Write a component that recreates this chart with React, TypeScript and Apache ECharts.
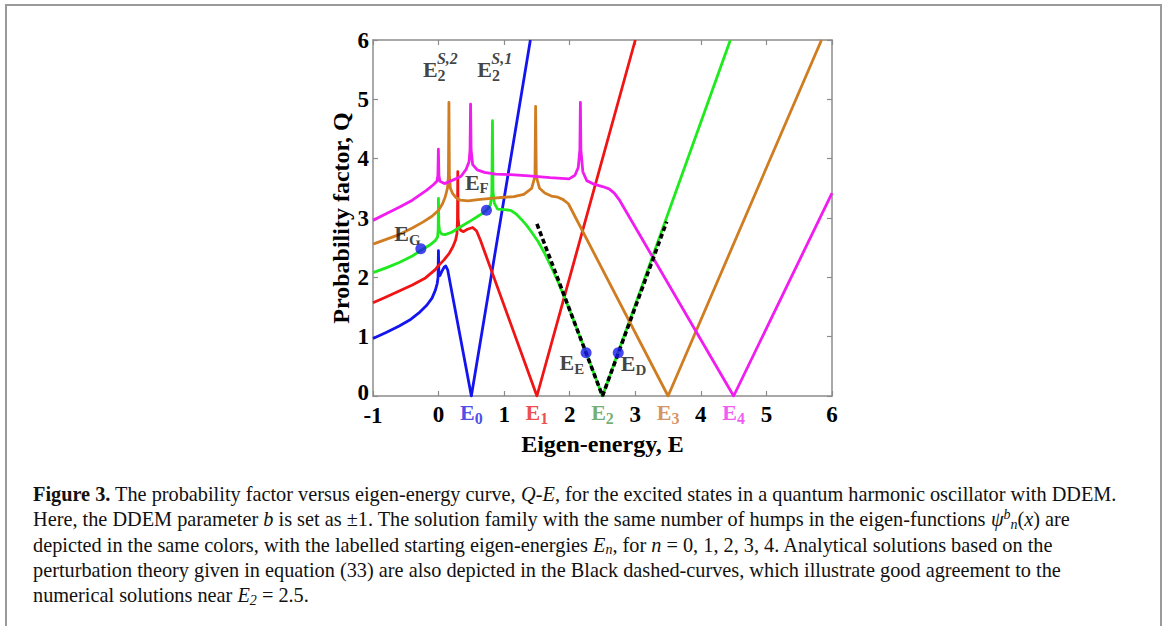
import React, { useEffect, useRef } from "react";
import * as echarts from "echarts";

// ---------- data ----------
const blueE0 = [[-1,0.97],[-0.8,1.07],[-0.6,1.18],[-0.44,1.28],[-0.3,1.4],[-0.18,1.53],[-0.1,1.65],[-0.05,1.78],[-0.02,1.9],[-0.008,2.0],[-0.002,2.45],[0.004,2.08],[0.02,2.03],[0.05,2.1],[0.09,2.18],[0.11,2.19],[0.14,2.12],[0.5,0],[1.4,6]];
const redE1 = [[-1,1.57],[-0.8,1.67],[-0.6,1.77],[-0.4,1.87],[-0.2,1.99],[-0.05,2.13],[0,2.2],[0.08,2.29],[0.16,2.4],[0.22,2.52],[0.26,2.63],[0.28,2.74],[0.288,2.95],[0.293,3.78],[0.298,3.0],[0.31,2.85],[0.34,2.79],[0.38,2.77],[0.44,2.81],[0.52,2.84],[0.58,2.78],[0.64,2.62],[1.5,0],[3.0,6]];
const greenE2 = [[-1,2.08],[-0.8,2.16],[-0.6,2.25],[-0.4,2.36],[-0.26,2.46],[-0.14,2.54],[-0.05,2.62],[-0.015,2.68],[-0.006,2.8],[-0.002,3.33],[0.003,2.9],[0.015,2.78],[0.05,2.73],[0.1,2.72],[0.2,2.76],[0.35,2.86],[0.5,2.96],[0.63,3.05],[0.73,3.13],[0.79,3.22],[0.812,3.4],[0.822,4.64],[0.83,3.45],[0.85,3.25],[0.9,3.15],[1.0,3.14],[1.1,3.13],[1.18,3.07],[1.26,2.98],[1.34,2.88],[1.42,2.76],[1.52,2.6],[1.62,2.4],[1.72,2.17],[1.82,1.93],[1.92,1.66],[2.03,1.36],[2.13,1.07],[2.25,0.73],[2.5,0],[4.45,6]];
const orangeE3 = [[-1,2.56],[-0.8,2.64],[-0.6,2.72],[-0.4,2.83],[-0.24,2.93],[-0.1,3.03],[0,3.13],[0.06,3.24],[0.1,3.35],[0.135,3.5],[0.15,3.7],[0.158,4.95],[0.165,3.7],[0.18,3.5],[0.21,3.42],[0.26,3.35],[0.33,3.3],[0.45,3.29],[0.6,3.31],[0.8,3.33],[1.0,3.35],[1.15,3.36],[1.3,3.4],[1.42,3.5],[1.47,3.7],[1.48,4.88],[1.49,3.7],[1.54,3.5],[1.62,3.42],[1.72,3.37],[1.82,3.35],[1.9,3.31],[1.98,3.24],[3.5,0],[5.84,6]];
const magentaE4 = [[-1,2.96],[-0.8,3.07],[-0.6,3.18],[-0.4,3.3],[-0.18,3.47],[-0.08,3.56],[-0.025,3.62],[-0.01,3.72],[-0.003,4.16],[0.005,3.72],[0.02,3.62],[0.09,3.58],[0.2,3.63],[0.34,3.7],[0.42,3.82],[0.465,3.95],[0.48,4.15],[0.488,4.92],[0.496,4.15],[0.52,3.9],[0.59,3.81],[0.7,3.77],[0.87,3.74],[1.1,3.73],[1.38,3.71],[1.7,3.68],[1.99,3.66],[2.08,3.72],[2.13,3.85],[2.155,4.15],[2.163,4.95],[2.17,4.15],[2.2,3.78],[2.26,3.63],[2.37,3.57],[2.5,3.53],[2.6,3.49],[2.68,3.42],[2.76,3.3],[4.5,0],[6,3.42]];
const perturbationCurve = [[1.5,2.9],[2.5,0],[3.48,2.94]];

const markerNames = ["G", "F", "E", "D"];
const markerPoints = [[-0.27,2.48],[0.73,3.13],[2.25,0.73],[2.74,0.73]];

const eigenNames = ["0", "1", "2", "3", "4"];
const eigenEnergies = [0.5, 1.5, 2.5, 3.5, 4.5];

const specialNames = ["S,2", "S,1"];
const specialPoints = [[0.02,5.5],[0.85,5.5]];

const xAxisName = "Eigen-energy, E";
const yAxisName = "Probability factor, Q";

const captionLines = [
  "{b|Figure 3.} The probability factor versus eigen-energy curve, {i|Q-E}, for the excited states in a quantum harmonic oscillator with DDEM.",
  "Here, the DDEM parameter {i|b} is set as ±1. The solution family with the same number of humps in the eigen-functions {i|ψ}{sup|b}{sub|n}({i|x}) are",
  "depicted in the same colors, with the labelled starting eigen-energies {i|E}{sub|n}, for {i|n} = 0, 1, 2, 3, 4. Analytical solutions based on the",
  "perturbation theory given in equation ({lk|33}) are also depicted in the Black dashed-curves, which illustrate good agreement to the",
  "numerical solutions near {i|E}{sub|2} = 2.5.",
];

// ---------- styles ----------
const FONT = "'Liberation Serif', 'Times New Roman', serif";
const AXIS_GRAY = "#8c8c8c";
const curveColors = ["#1414f0", "#f01414", "#1eea1e", "#d07d22", "#f01cf0"];
const eigenLabelColors = ["#2020e0", "#e82020", "#4e9a4e", "#c8783a", "#ee30ee"];
const CAP = 20.3;

export default function App() {
  const ref = useRef<HTMLDivElement>(null);
  useEffect(() => {
    if (!ref.current) return;
    const chart = echarts.init(ref.current, undefined, { renderer: "svg" });

    const lineSeries = (data: number[][], color: string, z: number) => ({
      type: "line",
      data,
      showSymbol: false,
      symbol: "none",
      silent: true,
      z,
      lineStyle: { color, width: 2.8, join: "round" },
    });

    const eigenRich: any = {};
    eigenLabelColors.forEach((c, i) => {
      eigenRich["e" + i] = { fontFamily: FONT, fontWeight: "bold", fontSize: 22, color: c };
      eigenRich["s" + i] = { fontFamily: FONT, fontWeight: "bold", fontSize: 16, color: c, padding: [12, 0, 0, 0] };
    });

    const axisCommon = {
      type: "value",
      axisLine: { show: true, onZero: false, lineStyle: { color: AXIS_GRAY, width: 1.5 } },
      axisTick: { show: true, inside: true, length: 5, lineStyle: { color: AXIS_GRAY, width: 1.2 } },
      splitLine: { show: false },
    };
    const tick = { fontFamily: FONT, fontWeight: "bold", fontSize: 23, color: "#000" };
    const labelStyle = { ...tick, lineHeight: 16 };
    const nameStyle = { fontFamily: FONT, fontWeight: "bold", fontSize: 24, color: "#000" };
    const markRich = {
      e: { fontFamily: FONT, fontWeight: "bold", fontSize: 22, color: "#111" },
      s: { fontFamily: FONT, fontWeight: "bold", fontSize: 15, color: "#111", padding: [12, 0, 0, 0] },
    };

    const capRich = {
      b: { fontFamily: FONT, fontWeight: "bold", fontSize: CAP, color: "#111" },
      i: { fontFamily: FONT, fontStyle: "italic", fontSize: CAP, color: "#111" },
      sub: { fontFamily: FONT, fontStyle: "italic", fontSize: 14, color: "#111", padding: [10, 0, 0, 0] },
      sup: { fontFamily: FONT, fontStyle: "italic", fontSize: 14, color: "#111", padding: [0, 0, 10, 0] },
      lk: { fontFamily: FONT, fontSize: CAP, color: "#2b8fc4" },
    };
    const captionGraphics = captionLines.map((t, i) => ({
      type: "text",
      silent: true,
      x: 33,
      y: 494 + i * 25.3,
      style: {
        text: t,
        fontFamily: FONT,
        fontSize: CAP,
        fill: "#111",
        verticalAlign: "middle",
        align: "left",
        rich: capRich,
      },
    }));

    chart.setOption({
      animation: false,
      backgroundColor: "#fff",
      grid: { left: 373, top: 40, width: 459, height: 356, containLabel: false },
      xAxis: [
        {
          ...axisCommon,
          position: "bottom",
          min: -1, max: 6, interval: 1,
          axisLabel: {
            ...labelStyle,
            margin: 10,
            formatter: (v: number) => (v === -1 ? "{m|-1}" : String(v)),
            rich: { m: { ...tick, lineHeight: 16, padding: [3, 0, 0, 0] } },
          },
          name: xAxisName,
          nameLocation: "middle",
          nameGap: 31,
          nameTextStyle: nameStyle,
        },
        {
          ...axisCommon,
          position: "top",
          min: -1, max: 6, interval: 1,
          axisLabel: { show: false },
        },
      ],
      yAxis: [
        {
          ...axisCommon,
          position: "left",
          min: 0, max: 6, interval: 1,
          axisLabel: {
            ...labelStyle,
            margin: 4,
            formatter: (v: number) => (v === 0 ? "{z|0}" : String(v)),
            rich: { z: { ...tick, lineHeight: 16, padding: [0, 0, 8, 0] } },
          },
          name: yAxisName,
          nameLocation: "middle",
          nameGap: 20,
          nameRotate: 90,
          nameTextStyle: nameStyle,
        },
        {
          ...axisCommon,
          position: "right",
          min: 0, max: 6, interval: 1,
          axisLabel: { show: false },
        },
      ],
      series: [
        lineSeries(blueE0, curveColors[0], 2),
        lineSeries(redE1, curveColors[1], 2),
        lineSeries(greenE2, curveColors[2], 2),
        lineSeries(orangeE3, curveColors[3], 2),
        lineSeries(magentaE4, curveColors[4], 2),
        {
          type: "line",
          data: perturbationCurve,
          showSymbol: false,
          symbol: "none",
          silent: true,
          z: 3,
          lineStyle: { color: "#000", width: 3.6, type: [5, 3] },
        },
        {
          type: "scatter",
          silent: true,
          z: 4,
          symbolSize: 11,
          itemStyle: { color: "#1a1aee" },
          data: markerPoints.map((p, i) => ({
            value: p,
            label: {
              show: true,
              formatter: "{e|E}{s|" + markerNames[i] + "}",
              position: [[-21, -23], [-16, -36], [-21, 2], [8, 3]][i] as any,
              rich: markRich,
            },
          })),
        },
        {
          type: "scatter",
          silent: true,
          z: 4,
          symbolSize: 0,
          data: eigenEnergies.map((e, i) => ({
            value: [e, 0],
            label: {
              show: true,
              position: "bottom",
              distance: 2,
              formatter: "{e" + i + "|E}{s" + i + "|" + eigenNames[i] + "}",
              rich: eigenRich,
            },
          })),
        },
        {
          type: "scatter",
          silent: true,
          z: 4,
          symbolSize: 0,
          data: specialPoints.map((p) => ({
            value: p,
            label: {
              show: true,
              position: [-17, -14] as any,
              formatter: "{e|E}{s|2}",
              rich: {
                e: { fontFamily: FONT, fontWeight: "bold", fontSize: 22, color: "#111" },
                s: { fontFamily: FONT, fontWeight: "bold", fontSize: 16, color: "#111", padding: [12, 0, 0, 0] },
              },
            },
          })),
        },
        {
          type: "scatter",
          silent: true,
          z: 4,
          symbolSize: 0,
          data: specialPoints.map((p, i) => ({
            value: p,
            label: {
              show: true,
              position: [-3, -19] as any,
              formatter: "{p|" + specialNames[i] + "}",
              rich: {
                p: { fontFamily: FONT, fontWeight: "bold", fontStyle: "italic", fontSize: 16, color: "#111" },
              },
            },
          })),
        },
      ],
      graphic: [
        {
          type: "rect",
          silent: true,
          shape: { x: 6, y: 5, width: 1155, height: 700 },
          style: { fill: "none", stroke: "#9a9a9a", lineWidth: 2 },
        },
        ...captionGraphics,
      ],
    });
    return () => chart.dispose();
  }, []);
  return <div ref={ref} style={{ position: "fixed", left: 0, top: 0, width: 1165, height: 626 }} />;
}
